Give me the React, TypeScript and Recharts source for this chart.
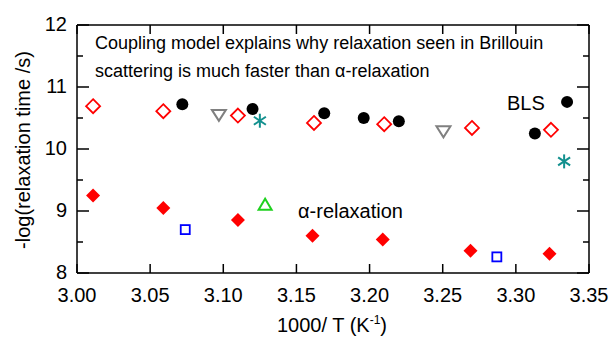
import { Scatter, ScatterChart, XAxis, YAxis } from "recharts";

// α-relaxation (filled red diamonds)
const alphaX = [3.011, 3.059, 3.11, 3.161, 3.209, 3.269, 3.323];
const alphaY = [9.25, 9.05, 8.855, 8.6, 8.54, 8.36, 8.31];
// coupling model prediction (open red diamonds)
const modelX = [3.011, 3.059, 3.11, 3.162, 3.21, 3.27, 3.324];
const modelY = [10.69, 10.61, 10.54, 10.42, 10.4, 10.34, 10.31];
// BLS (black dots)
const blsX = [3.072, 3.12, 3.169, 3.196, 3.22, 3.313, 3.335];
const blsY = [10.72, 10.645, 10.576, 10.5, 10.447, 10.25, 10.76];
// grey open down-triangles
const grayX = [3.097, 3.2505];
const grayY = [10.55, 10.285];
// teal asterisks
const tealX = [3.125, 3.333];
const tealY = [10.456, 9.8];
// blue open squares
const blueX = [3.074, 3.287];
const blueY = [8.7, 8.26];
// green open triangle
const greenX = [3.1286];
const greenY = [9.1];

const xTicks = [3.0, 3.05, 3.1, 3.15, 3.2, 3.25, 3.3, 3.35];
const yTicks = [8, 8.5, 9, 9.5, 10, 10.5, 11, 11.5, 12];

const FONT = "'Liberation Sans', Arial, sans-serif";

const zip = (xs: number[], ys: number[]) => xs.map((x, i) => ({ x, y: ys[i] }));

const diamond = (fill: string, stroke: string) => (p: any) => {
  const { cx, cy } = p;
  const r = 7;
  return (
    <path
      d={`M${cx},${cy - r}L${cx + r},${cy}L${cx},${cy + r}L${cx - r},${cy}Z`}
      fill={fill}
      stroke={stroke}
      strokeWidth={fill === "none" ? 1.8 : 0}
    />
  );
};

const dot = (p: any) => <circle cx={p.cx} cy={p.cy} r={6} fill="#000" />;

const downTri = (p: any) => {
  const { cx, cy } = p;
  return (
    <path
      d={`M${cx - 7},${cy - 5}L${cx + 7},${cy - 5}L${cx},${cy + 6}Z`}
      fill="none"
      stroke="#808080"
      strokeWidth={2}
    />
  );
};

const upTri = (p: any) => {
  const { cx, cy } = p;
  return (
    <path
      d={`M${cx - 6.5},${cy + 5}L${cx + 6.5},${cy + 5}L${cx},${cy - 6}Z`}
      fill="none"
      stroke="#1fd11f"
      strokeWidth={2}
    />
  );
};

const square = (p: any) => (
  <rect x={p.cx - 4.5} y={p.cy - 4.5} width={9} height={9} fill="none" stroke="#0000ff" strokeWidth={1.8} />
);

const asterisk = (p: any) => {
  const { cx, cy } = p;
  const r = 7;
  const dx = 6;
  const dy = 4;
  return (
    <g stroke="#12908e" strokeWidth={2}>
      <line x1={cx} y1={cy - r} x2={cx} y2={cy + r} />
      <line x1={cx - dx} y1={cy - dy} x2={cx + dx} y2={cy + dy} />
      <line x1={cx - dx} y1={cy + dy} x2={cx + dx} y2={cy - dy} />
    </g>
  );
};

const BottomTick = (p: any) => (
  <g>
    <line x1={p.x} y1={p.y} x2={p.x} y2={p.y - 9} stroke="#000" strokeWidth={1.5} />
    <text x={p.x} y={p.y + 28.5} textAnchor="middle" fontSize={20} fontFamily={FONT} fill="#000">
      {Number(p.payload.value).toFixed(2)}
    </text>
  </g>
);

const TopTick = (p: any) => (
  <line x1={p.x} y1={p.y} x2={p.x} y2={p.y + 9} stroke="#000" strokeWidth={1.5} />
);

const LeftTick = (p: any) => {
  const v = Number(p.payload.value);
  const major = Number.isInteger(v);
  return (
    <g>
      <line x1={p.x} y1={p.y} x2={p.x + (major ? 12 : 6)} y2={p.y} stroke="#000" strokeWidth={1.5} />
      {major && (
        <text x={p.x - 10} y={p.y + 6} textAnchor="end" fontSize={20} fontFamily={FONT} fill="#000">
          {v}
        </text>
      )}
    </g>
  );
};

const RightTick = (p: any) => {
  const v = Number(p.payload.value);
  const major = Number.isInteger(v);
  return <line x1={p.x} y1={p.y} x2={p.x - (major ? 12 : 6)} y2={p.y} stroke="#000" strokeWidth={1.5} />;
};

const axisLine = { stroke: "#000", strokeWidth: 1.5 };

export default function App() {
  return (
    <div style={{ position: "absolute", left: 0, top: 0, width: 613, height: 337, background: "#fff" }}>
      <ScatterChart width={613} height={337} margin={{ top: 24, right: 23, bottom: 63, left: 76 }}>
        <XAxis
          xAxisId="b"
          dataKey="x"
          type="number"
          domain={[3.0, 3.35]}
          ticks={xTicks}
          interval={0}
          height={1}
          tickSize={0}
          tickMargin={0}
          axisLine={axisLine}
          tickLine={false}
          tick={BottomTick}
          allowDataOverflow
        />
        <XAxis
          xAxisId="t"
          orientation="top"
          dataKey="x"
          type="number"
          domain={[3.0, 3.35]}
          ticks={xTicks}
          interval={0}
          height={1}
          tickSize={0}
          tickMargin={0}
          axisLine={axisLine}
          tickLine={false}
          tick={TopTick}
          allowDataOverflow
        />
        <YAxis
          yAxisId="l"
          dataKey="y"
          type="number"
          domain={[8, 12]}
          ticks={yTicks}
          interval={0}
          width={1}
          tickSize={0}
          tickMargin={0}
          axisLine={axisLine}
          tickLine={false}
          tick={LeftTick}
          allowDataOverflow
        />
        <YAxis
          yAxisId="r"
          orientation="right"
          dataKey="y"
          type="number"
          domain={[8, 12]}
          ticks={yTicks}
          interval={0}
          width={1}
          tickSize={0}
          tickMargin={0}
          axisLine={axisLine}
          tickLine={false}
          tick={RightTick}
          allowDataOverflow
        />
        <Scatter xAxisId="b" yAxisId="l" data={zip(alphaX, alphaY)} shape={diamond("#ff0000", "none")} isAnimationActive={false} />
        <Scatter xAxisId="b" yAxisId="l" data={zip(modelX, modelY)} shape={diamond("none", "#ff0000")} isAnimationActive={false} />
        <Scatter xAxisId="b" yAxisId="l" data={zip(blsX, blsY)} shape={dot} isAnimationActive={false} />
        <Scatter xAxisId="b" yAxisId="l" data={zip(grayX, grayY)} shape={downTri} isAnimationActive={false} />
        <Scatter xAxisId="b" yAxisId="l" data={zip(tealX, tealY)} shape={asterisk} isAnimationActive={false} />
        <Scatter xAxisId="b" yAxisId="l" data={zip(blueX, blueY)} shape={square} isAnimationActive={false} />
        <Scatter xAxisId="t" yAxisId="r" data={zip(greenX, greenY)} shape={upTri} isAnimationActive={false} />
        <g fontFamily={FONT} fill="#000">
          <text x={95} y={49} fontSize={18}>
            Coupling model explains why relaxation seen in Brillouin
          </text>
          <text x={95} y={77} fontSize={18}>
            scattering is much faster than α-relaxation
          </text>
          <text x={507} y={110} fontSize={20}>
            BLS
          </text>
          <text x={298} y={218} fontSize={20}>
            α-relaxation
          </text>
          <text transform="rotate(-90)" x={-150} y={30} textAnchor="middle" fontSize={20}>
            -log(relaxation time /s)
          </text>
          <text x={332} y={332} textAnchor="middle" fontSize={20}>
            1000/ T (K
            <tspan fontSize={12} dy={-8}>
              -1
            </tspan>
            <tspan dy={8}>)</tspan>
          </text>
        </g>
      </ScatterChart>
    </div>
  );
}
